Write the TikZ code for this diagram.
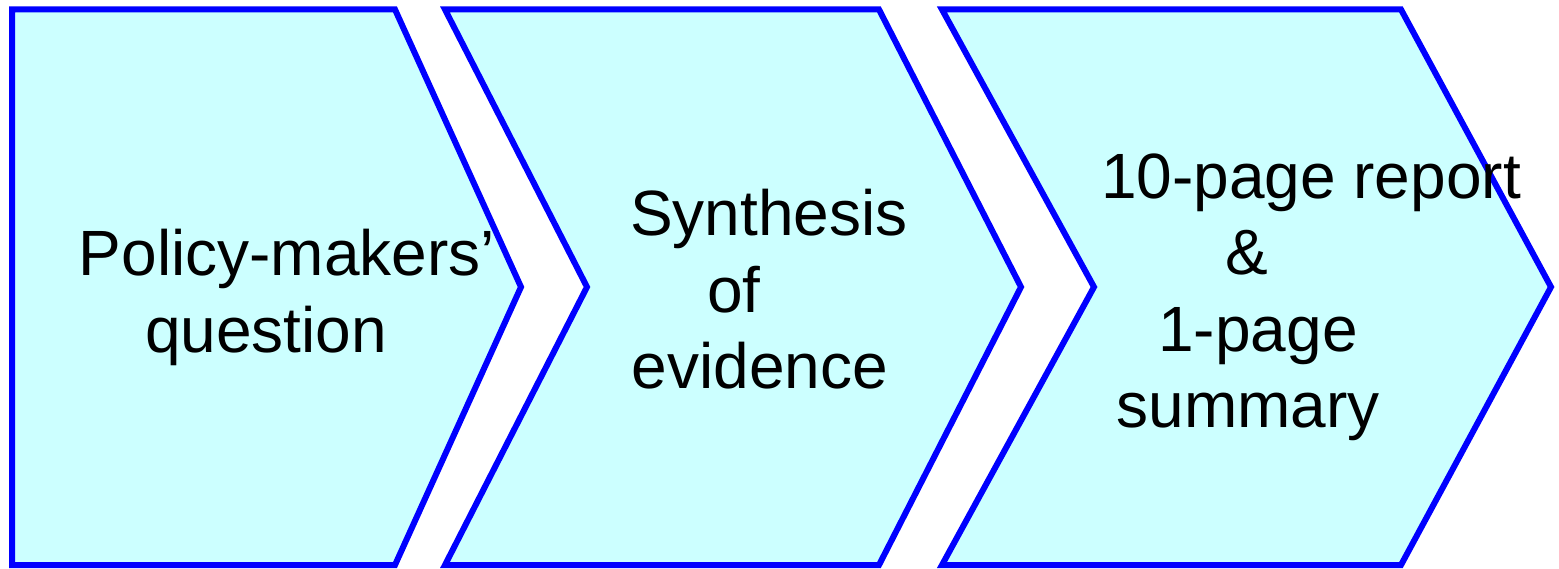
\documentclass[tikz,border=0pt]{standalone}
\usepackage{fontspec}
\setmainfont{Liberation Sans}
\usepackage{tikz}
\definecolor{stagefill}{RGB}{204,255,255}
\definecolor{stageline}{RGB}{0,0,255}

\begin{document}
\begin{tikzpicture}[
  x=1pt, y=-1pt,
  stage/.style={draw=stageline, fill=stagefill, line width=6pt,
                line join=miter},
  label/.style={font=\fontsize{64}{76.5}\selectfont, align=center,
                inner sep=0pt, text=black}
]
  \useasboundingbox (0,0) rectangle (1559,569);

  % the three stages, left to right
  \draw[stage] (12,9.5) -- (395,9.5) -- (521,287) -- (395,565)
    -- (12,565) -- cycle;
  \draw[stage] (445,9.5) -- (879,9.5) -- (1021,287) -- (879,565)
    -- (445,565) -- (587,287) -- cycle;
  \draw[stage] (942,9.5) -- (1401,9.5) -- (1551,287) -- (1401,565)
    -- (942,565) -- (1094,287) -- cycle;

  \node[label] (question) at (287,297.5)
    {Policy-makers’\\ question\hspace*{42pt}};
  \node[label] (synthesis) at (769,289.5)
    {Synthesis\\ of\hspace*{70pt}\null\\ evidence\hspace*{18pt}};
  \node[label] (report) at (1311,297.5)
    {10-page report\\ \&\hspace*{128pt}\null\\ 1-page\hspace*{106pt}\null\\
     summary\hspace*{126pt}};
\end{tikzpicture}
\end{document}
